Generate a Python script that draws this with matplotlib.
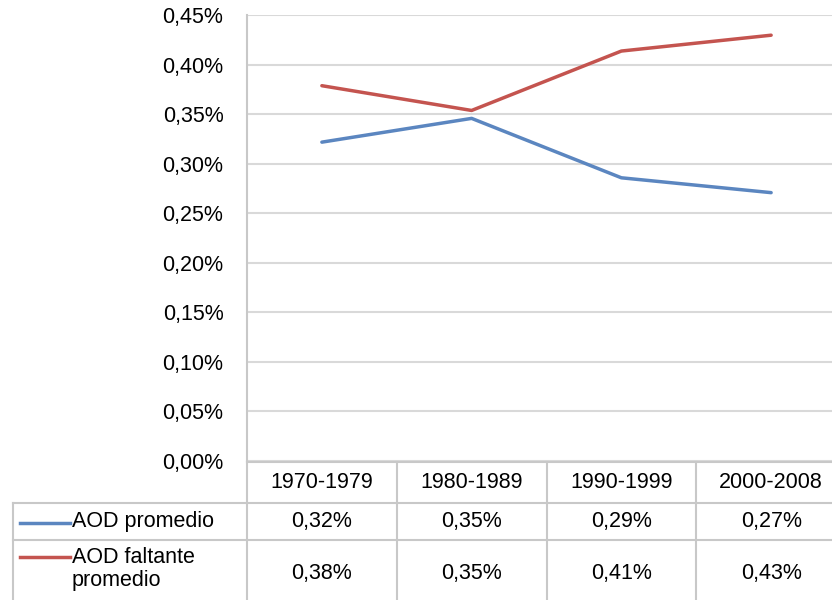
import matplotlib
matplotlib.use("Agg")
import matplotlib.pyplot as plt
from matplotlib.lines import Line2D
from matplotlib.ticker import FuncFormatter, MultipleLocator
from matplotlib.transforms import blended_transform_factory

plt.rcParams['font.family'] = ['Liberation Sans', 'DejaVu Sans']

# data (percent)
periods = ["1970-1979", "1980-1989", "1990-1999", "2000-2008"]
aod_promedio = [0.322, 0.346, 0.286, 0.271]
aod_faltante = [0.379, 0.354, 0.414, 0.430]
series_names = ["AOD promedio", "AOD faltante\npromedio"]
series_colors = ["#5b86c0", "#c4544f"]

FS = 15.5
GRID = "#d9d9d9"
BORDER = "#c8c8c8"
W, H = 832, 600


def pct(v, _=None):
    return f"{v:.2f}".replace('.', ',') + '%'


fig = plt.figure(figsize=(W / 100, H / 100), dpi=100)
# right edge of the plot runs past the picture (cropped in the reference)
ax = fig.add_axes([247 / W, (H - 461) / H, (846 - 247) / W, (461 - 15.4) / H])

x = range(len(periods))
for vals, col in zip([aod_promedio, aod_faltante], series_colors):
    ax.plot(x, vals, color=col, lw=2.5, solid_capstyle='round', zorder=3)

ax.set_xlim(-0.5, len(periods) - 0.5)
ax.set_ylim(0, 0.45)
ax.yaxis.set_major_locator(MultipleLocator(0.05))
ax.yaxis.set_major_formatter(FuncFormatter(pct))
ax.set_xticks([])
ax.tick_params(axis='y', length=0, pad=17, labelsize=FS)
ax.grid(axis='y', color=GRID, lw=1.5)
ax.set_axisbelow(True)
for s in ['top', 'right', 'bottom']:
    ax.spines[s].set_visible(False)
ax.spines['left'].set_color(BORDER)
ax.spines['left'].set_linewidth(1.5)

# data table under the plot
tr = blended_transform_factory(ax.transData, fig.transFigure)
fy = lambda py: 1 - py / H
y_head_top, y_row1, y_row2 = fy(462), fy(503), fy(540)
left = 13 / W

def line(xs, ys, transform):
    fig.add_artist(Line2D(xs, ys, transform=transform, color=BORDER, lw=1.5, clip_on=False))

line([-0.5, len(periods) - 0.5], [y_head_top, y_head_top], tr)
for yy in (y_row1, y_row2):
    line([left, 1.05], [yy, yy], fig.transFigure)
line([left, left], [y_row1, 0], fig.transFigure)
line([-0.5, -0.5], [y_head_top, 0], tr)
for i in range(1, len(periods)):
    line([i - 0.5, i - 0.5], [y_head_top, 0], tr)

for i, p in enumerate(periods):
    fig.text(i, fy(483), p, transform=tr, ha='center', va='center', fontsize=FS)
    fig.text(i, fy(522), pct(aod_promedio[i]), transform=tr, ha='center', va='center', fontsize=FS)
    fig.text(i, fy(573), pct(aod_faltante[i]), transform=tr, ha='center', va='center', fontsize=FS)

# legend keys in the row headers
for name, col, yc, ykey in zip(series_names, series_colors, [fy(522), fy(569)], [fy(523), fy(557)]):
    fig.add_artist(Line2D([20 / W, 70 / W], [ykey, ykey], transform=fig.transFigure,
                          color=col, lw=2.5))
    fig.text(72 / W, yc, name, ha='left', va='center', fontsize=FS, linespacing=1.1)

fig.savefig("out.png", dpi=100)
